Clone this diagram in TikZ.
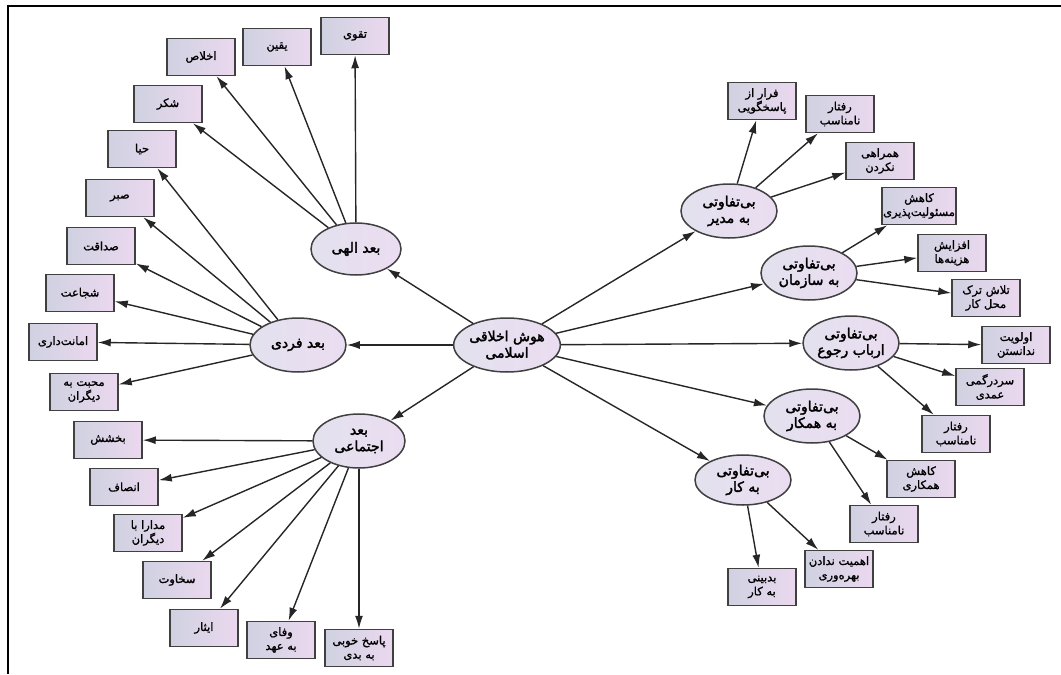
\documentclass[tikz,border=0pt]{standalone}
\usepackage{fontspec}
\usepackage{tikz}
\usetikzlibrary{shapes.geometric,arrows.meta}
\TeXXeTstate=1
\newfontfamily\arabicfont[Script=Arabic,FakeBold=1.2]{DejaVu Sans}
\newfontfamily\arabicbold[Script=Arabic,FakeBold=2.2]{DejaVu Sans}
\newcommand{\faplain}{\arabicfont\fontsize{11.5}{14}\selectfont}
\newcommand{\fabold}{\arabicbold\fontsize{14}{16.5}\selectfont}
\newcommand{\rl}[1]{\beginR #1\endR}
\definecolor{lavA}{HTML}{E3E1EE}
\definecolor{lavB}{HTML}{EBDDF1}
\definecolor{boxA}{HTML}{CFD1E1}
\definecolor{boxB}{HTML}{EBD8EF}

\begin{document}
\begin{tikzpicture}
    [ x=1pt, y=-1pt
    , hub/.style={ellipse, draw=black!75, line width=1.5pt, left color=lavA, right color=lavB,
        minimum width=96pt, minimum height=54pt, inner sep=0pt, align=center, font=\fabold}
    , item/.style={rectangle, draw=black!75, line width=1.5pt, left color=boxA, right color=boxB,
        minimum width=68pt, minimum height=37pt, inner sep=1pt, align=center, font=\faplain}
    , link/.style={-{Latex[length=13pt,width=8pt]}, line width=1.4pt, draw=black!85}
    ]
\useasboundingbox (0,0) rectangle (1061,675);
\draw[line width=1.6pt] (8,674) -- (8,6) -- (1061,6);

% hubs
\node[hub] (hoosh)    at (507,345) {\rl{هوش اخلاقی}\\\rl{اسلامی}};
\node[hub, minimum width=90pt, minimum height=52pt] (ilahi) at (356,249) {\rl{بعد الهی}};
\node[hub] (fardi)    at (298,345) {\rl{بعد فردی}};
\node[hub, minimum width=92pt] (ejtemai) at (359,441) {\rl{بعد}\\\rl{اجتماعی}};
\node[hub] (modir)    at (729,211) {\rl{بی‌تفاوتی}\\\rl{به مدیر}};
\node[hub] (sazman)   at (809,273) {\rl{بی‌تفاوتی}\\\rl{به سازمان}};
\node[hub] (arbab)    at (851,343) {\rl{بی‌تفاوتی}\\\rl{ارباب رجوع}};
\node[hub] (hamkar)   at (812,416) {\rl{بی‌تفاوتی}\\\rl{به همکار}};
\node[hub, minimum height=50pt] (kar) at (743,480) {\rl{بی‌تفاوتی}\\\rl{به کار}};

% left leaves
\node[item] (taqva)    at (355,36)  {\rl{تقوی}};
\node[item] (yaqin)    at (277,47)  {\rl{یقین}};
\node[item] (ekhlas)   at (201,57)  {\rl{اخلاص}};
\node[item] (shokr)    at (168,104) {\rl{شکر}};
\node[item] (haya)     at (142,149) {\rl{حیا}};
\node[item] (sabr)     at (120,198) {\rl{صبر}};
\node[item] (sedaqat)  at (101,246) {\rl{صداقت}};
\node[item] (shojaat)  at (80,293)  {\rl{شجاعت}};
\node[item] (amanat)   at (63,342)  {\rl{امانت‌داری}};
\node[item] (mohabbat) at (84,392)  {\rl{محبت به}\\\rl{دیگران}};
\node[item] (bakhshesh) at (108,440) {\rl{بخشش}};
\node[item] (ensaf)    at (124,487) {\rl{انصاف}};
\node[item] (modara)   at (148,533) {\rl{مدارا با}\\\rl{دیگران}};
\node[item] (sekhavat) at (177,580) {\rl{سخاوت}};
\node[item] (isar)     at (204,628) {\rl{ایثار}};
\node[item] (vafa)     at (281,640) {\rl{وفای}\\\rl{به عهد}};
\node[item] (pasokh)   at (359,648) {\rl{پاسخ خوبی}\\\rl{به بدی}};

% right leaves
\node[item] (farar)    at (762,101) {\rl{فرار از}\\\rl{پاسخگویی}};
\node[item] (raftarA)  at (840,114) {\rl{رفتار}\\\rl{نامناسب}};
\node[item] (hamrahi)  at (880,161) {\rl{همراهی}\\\rl{نکردن}};
\node[item] (masuliat) at (919,206) {\rl{کاهش}\\\rl{مسئولیت‌پذیری}};
\node[item] (hazine)   at (952,253) {\rl{افزایش}\\\rl{هزینه‌ها}};
\node[item] (tark)     at (986,298) {\rl{تلاش ترک}\\\rl{محل کار}};
\node[item] (olaviat)  at (1016,345) {\rl{اولویت}\\\rl{ندانستن}};
\node[item] (sardargomi) at (990,387) {\rl{سردرگمی}\\\rl{عمدی}};
\node[item] (raftarB)  at (956,434) {\rl{رفتار}\\\rl{نامناسب}};
\node[item] (hamkari)  at (921,479) {\rl{کاهش}\\\rl{همکاری}};
\node[item] (raftarC)  at (884,524) {\rl{رفتار}\\\rl{نامناسب}};
\node[item] (ahamiat)  at (839,569) {\rl{اهمیت ندادن}\\\rl{بهره‌وری}};
\node[item] (badbini)  at (762,587) {\rl{بدبینی}\\\rl{به کار}};

% connectors
\draw[link] (hoosh) -- (ilahi);
\draw[link] (hoosh) -- (fardi);
\draw[link] (hoosh) -- (ejtemai);
\draw[link] (hoosh) -- (modir);
\draw[link] (hoosh) -- (sazman);
\draw[link] (hoosh) -- (arbab);
\draw[link] (hoosh) -- (hamkar);
\draw[link] (hoosh) -- (kar);

\draw[link] (ilahi) -- (taqva);
\draw[link] (ilahi) -- (yaqin);
\draw[link] (ilahi) -- (ekhlas);
\draw[link] (ilahi) -- (shokr);

\draw[link] (fardi) -- (haya);
\draw[link] (fardi) -- (sabr);
\draw[link] (fardi) -- (sedaqat);
\draw[link] (fardi) -- (shojaat);
\draw[link] (fardi) -- (amanat);
\draw[link] (fardi) -- (mohabbat);

\draw[link] (ejtemai) -- (bakhshesh);
\draw[link] (ejtemai) -- (ensaf);
\draw[link] (ejtemai) -- (modara);
\draw[link] (ejtemai) -- (sekhavat);
\draw[link] (ejtemai) -- (isar);
\draw[link] (ejtemai) -- (vafa);
\draw[link] (ejtemai) -- (pasokh);

\draw[link] (modir) -- (farar);
\draw[link] (modir) -- (raftarA);
\draw[link] (modir) -- (hamrahi);

\draw[link] (sazman) -- (masuliat);
\draw[link] (sazman) -- (hazine);
\draw[link] (sazman) -- (tark);

\draw[link] (arbab) -- (olaviat);
\draw[link] (arbab) -- (sardargomi);
\draw[link] (arbab) -- (raftarB);

\draw[link] (hamkar) -- (hamkari);
\draw[link] (hamkar) -- (raftarC);

\draw[link] (kar) -- (ahamiat);
\draw[link] (kar) -- (badbini);
\end{tikzpicture}
\end{document}
